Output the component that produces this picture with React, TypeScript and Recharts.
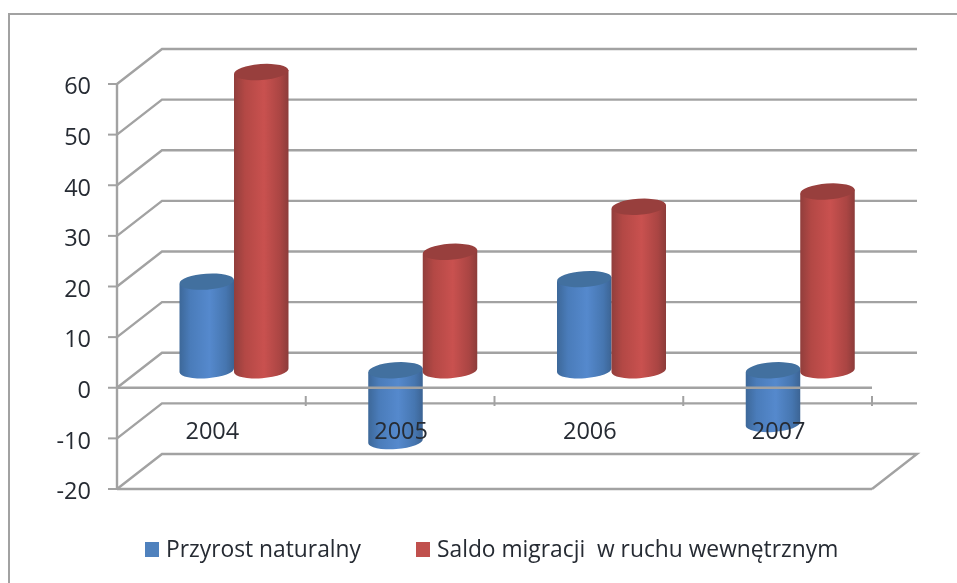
import React from 'react';
import { BarChart, Bar, XAxis, YAxis, CartesianGrid, ReferenceLine, Legend } from 'recharts';

const years = ['2004', '2005', '2006', '2007'];
const przyrost = [17.5, -14, 18, -10.6];
const saldo = [58.9, 23.4, 32.3, 35.3];
const yTicks = [-20, -10, 0, 10, 20, 30, 40, 50, 60];

const data = years.map((year, i) => ({ year, przyrost: przyrost[i], saldo: saldo[i] }));

const GRID = '#a2a2a2';
const TEXT = '#262b33';
const FONT = '"Open Sans", sans-serif';

// fake 3d: how far the back wall sits from the front plane
const DEPTH_X = 45;
const DEPTH_Y = 35;
const PLOT_BOTTOM = 489;
const BAND = 188.75;

const gridLine = (props: any) => {
    const { x1, y1, x2, y2, key } = props;
    let d = `M${x1},${y1} L${x1 + DEPTH_X},${y1 - DEPTH_Y} L${x2 + DEPTH_X},${y2 - DEPTH_Y}`;
    if (y1 >= PLOT_BOTTOM - 1) d += ` L${x2},${y2}`;
    return <path key={key} d={d} fill="none" stroke={GRID} strokeWidth={2.4} />;
};

const cylinder = (gradient: string, top: string) => (props: any) => {
    const { x, y, width, height } = props;
    const rx = width / 2;
    const ry = 8;
    const cx = x + rx + DEPTH_X / 2;
    const yTop = Math.min(y, y + height) - DEPTH_Y / 2;
    const yBottom = Math.max(y, y + height) - DEPTH_Y / 2;
    const tilt = 2;
    const body = `M${cx - rx},${yTop + tilt} L${cx - rx},${yBottom + tilt} A${rx},${ry} -4 0 0 ${cx + rx},${yBottom - tilt} L${cx + rx},${yTop - tilt} Z`;
    return (
        <g>
            <path d={body} fill={`url(#${gradient})`} />
            <ellipse cx={cx} cy={yTop} rx={rx} ry={ry} fill={top} transform={`rotate(-4 ${cx} ${yTop})`} />
        </g>
    );
};

const yearTick = (props: any) => {
    const { x, y, payload } = props;
    return (
        <g>
            <line x1={x + BAND / 2} x2={x + BAND / 2} y1={y - 101} y2={y - 91} stroke={GRID} strokeWidth={2} />
            <text x={x + 1} y={y - 51} dy={-7} textAnchor="middle" fontSize={23.5} fontFamily={FONT} fill={TEXT}>{payload.value}</text>
        </g>
    );
};

const legendContent = (props: any) => {
    const xs = [145, 416];
    return (
        <div style={{ position: 'relative', height: 30, fontFamily: FONT, fontSize: 22.8, color: TEXT }}>
            {props.payload.map((item: any, i: number) => (
                <div key={item.value} style={{ position: 'absolute', left: xs[i], top: 0, whiteSpace: 'pre', lineHeight: '30px' }}>
                    <span style={{ display: 'inline-block', width: 14, height: 15, background: item.color, marginRight: 7 }} />
                    {item.value}
                </div>
            ))}
        </div>
    );
};

export default function App() {
    return (
        <div style={{ position: 'absolute', left: 0, top: 0, width: 957, height: 583, overflow: 'hidden', background: '#fff', filter: 'blur(0.5px)' }}>
            <div style={{ position: 'absolute', left: 8, top: 13, width: 960, height: 600, borderLeft: `2px solid ${GRID}`, borderTop: `2px solid ${GRID}` }} />
            <BarChart
                width={957}
                height={583}
                data={data}
                barSize={54.5}
                barGap={0}
                margin={{ top: 84, right: 85, bottom: 93, left: 0 }}
                style={{ position: 'absolute', left: 0, top: 0, fontFamily: FONT }}
            >
                <defs>
                    <linearGradient id="blueBody" x1="0" y1="0" x2="1" y2="0">
                        <stop offset="0%" stopColor="#3d6899" />
                        <stop offset="20%" stopColor="#4a7cba" />
                        <stop offset="55%" stopColor="#5589cd" />
                        <stop offset="85%" stopColor="#4676b0" />
                        <stop offset="100%" stopColor="#3c6494" />
                    </linearGradient>
                    <linearGradient id="redBody" x1="0" y1="0" x2="1" y2="0">
                        <stop offset="0%" stopColor="#913e3c" />
                        <stop offset="20%" stopColor="#b34845" />
                        <stop offset="55%" stopColor="#c9514f" />
                        <stop offset="85%" stopColor="#aa4543" />
                        <stop offset="100%" stopColor="#8c3c3a" />
                    </linearGradient>
                </defs>
                <CartesianGrid vertical={false} horizontal={gridLine} />
                <YAxis
                    width={117}
                    domain={[-20, 60]}
                    ticks={yTicks}
                    interval={0}
                    tickSize={9}
                    tickMargin={17}
                    axisLine={{ stroke: GRID, strokeWidth: 2.4 }}
                    tickLine={{ stroke: GRID, strokeWidth: 2 }}
                    tick={{ fontSize: 23.5, fontFamily: FONT, fill: TEXT, dy: 2 }}
                />
                <Bar dataKey="przyrost" name="Przyrost naturalny" fill="#4f81bd" isAnimationActive={false} shape={cylinder('blueBody', '#42709f')} />
                <Bar dataKey="saldo" name="Saldo migracji  w ruchu wewnętrznym" fill="#c0504d" isAnimationActive={false} shape={cylinder('redBody', '#983f3d')} />
                <ReferenceLine y={0} stroke={GRID} strokeWidth={2.4} />
                <XAxis
                    dataKey="year"
                    height={1}
                    interval={0}
                    tickLine={false}
                    axisLine={{ stroke: GRID, strokeWidth: 2.4 }}
                    tick={yearTick}
                />
                <Legend
                    verticalAlign="middle"
                    layout="horizontal"
                    content={legendContent}
                    wrapperStyle={{ left: 0, top: 534, width: 957 }}
                />
            </BarChart>
        </div>
    );
}
